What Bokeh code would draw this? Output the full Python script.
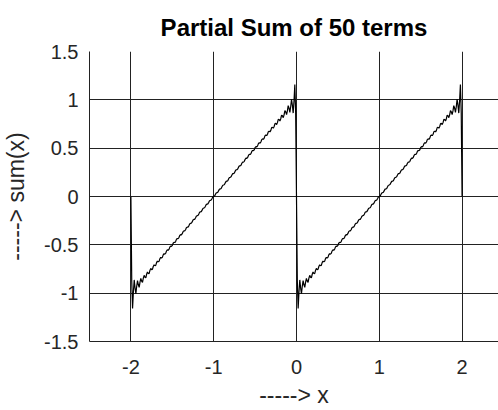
import numpy as np
from math import pi
from bokeh.plotting import figure
from bokeh.models import FixedTicker, Range1d
from bokeh.embed import file_html
from bokeh.resources import INLINE

# ---- data ----
title_text = "Partial Sum of 50 terms"
x_label_text = "-----> x"
y_label_text = "-----> sum(x)"
n_terms = 50
x_samples = np.arange(-200, 201) / 100.0          # x = -2 : 0.01 : 2
harmonics = np.arange(1, n_terms + 1)
coefficients = -2.0 / (pi * harmonics)             # sawtooth Fourier sine coefficients
x_ticks = [-2, -1, 0, 1, 2]
x_tick_labels = ["-2", "-1", "0", "1", "2"]
y_ticks = [-1.5, -1, -0.5, 0, 0.5, 1, 1.5]
y_tick_labels = ["-1.5", "-1", "-0.5", "0", "0.5", "1", "1.5"]

partial_sum = np.sin(pi * np.outer(x_samples, harmonics)) @ coefficients

FONT = "Liberation Sans"
p = figure(width=498, height=410, output_backend="svg", toolbar_location=None,
           x_range=Range1d(-2.5, 2.44), y_range=Range1d(-1.5, 1.5),
           min_border_left=88, min_border_right=0, min_border_top=51, min_border_bottom=68)
p.outline_line_color = None
p.background_fill_color = "white"
p.border_fill_color = "white"

p.line(x_samples, partial_sum, line_color="black", line_width=1.2)

for ax in (p.xaxis[0], p.yaxis[0]):
    ax.major_tick_in = 0
    ax.major_tick_out = 0
    ax.minor_tick_in = 0
    ax.minor_tick_out = 0
    ax.axis_line_color = "#222222"
    ax.axis_line_width = 1
    ax.major_label_text_font = FONT
    ax.major_label_text_font_size = "20px"
    ax.major_label_text_color = "#262626"
    ax.axis_label_text_font = FONT
    ax.axis_label_text_font_size = "23px"
    ax.axis_label_text_font_style = "normal"
    ax.axis_label_text_color = "#262626"

p.xaxis.ticker = FixedTicker(ticks=x_ticks)
p.xaxis.major_label_overrides = {t: l for t, l in zip(x_ticks, x_tick_labels)}
p.yaxis.ticker = FixedTicker(ticks=y_ticks)
p.yaxis.major_label_overrides = {t: l for t, l in zip(y_ticks, y_tick_labels)}
p.xaxis.major_label_standoff = 18
p.yaxis.major_label_standoff = 11
p.xaxis.axis_label = x_label_text
p.yaxis.axis_label = y_label_text
p.xaxis.axis_label_standoff = 5
p.yaxis.axis_label_standoff = 12

p.xgrid.ticker = FixedTicker(ticks=x_ticks)
p.ygrid.ticker = FixedTicker(ticks=y_ticks)
for g in (p.xgrid[0], p.ygrid[0]):
    g.grid_line_color = "#222222"
    g.grid_line_width = 1
    g.grid_line_alpha = 1.0

p.title.text = title_text
p.title.align = "center"
p.title.text_font = FONT
p.title.text_font_size = "24px"
p.title.text_font_style = "bold"
p.title.text_color = "black"
p.title.standoff = 21

open("out.html", "w").write(file_html(p, INLINE))
